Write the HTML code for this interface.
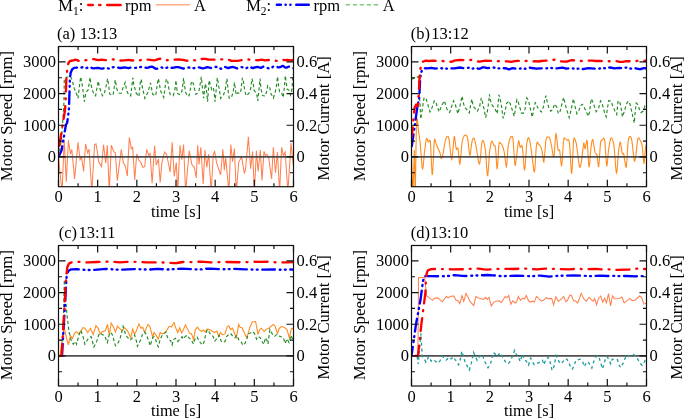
<!DOCTYPE html>
<html><head><meta charset="utf-8"><style>
html,body{margin:0;padding:0;background:#fff;width:685px;height:420px;overflow:hidden}
svg{display:block;will-change:transform}
text{font-family:"Liberation Serif",serif}
</style></head><body>
<svg width="685" height="420" viewBox="0 0 685 420" font-family='"Liberation Serif", serif' font-size="16.5" fill="#000">
<text x="58.3" y="10.8">M<tspan font-size="11.5" dy="4">1</tspan><tspan dy="-4">:</tspan></text>
<line x1="88.25" y1="5.00" x2="92.75" y2="5.00" stroke="#ff0000" stroke-width="2.50" stroke-linecap="round"/>
<line x1="99.25" y1="5.00" x2="100.35" y2="5.00" stroke="#ff0000" stroke-width="2.50" stroke-linecap="round"/>
<line x1="107.25" y1="5.00" x2="120.55" y2="5.00" stroke="#ff0000" stroke-width="2.50" stroke-linecap="round"/>
<text x="125" y="10.8">rpm</text>
<line x1="155.80" y1="4.80" x2="189.80" y2="4.80" stroke="#ffac84" stroke-width="1.50"/>
<text x="194" y="10.8">A</text>
<text x="246.2" y="10.8">M<tspan font-size="11.5" dy="4">2</tspan><tspan dy="-4">:</tspan></text>
<line x1="276.85" y1="4.70" x2="280.85" y2="4.70" stroke="#0000ff" stroke-width="2.50" stroke-linecap="round"/>
<line x1="285.55" y1="4.70" x2="285.65" y2="4.70" stroke="#0000ff" stroke-width="2.50" stroke-linecap="round"/>
<line x1="290.35" y1="4.70" x2="290.45" y2="4.70" stroke="#0000ff" stroke-width="2.50" stroke-linecap="round"/>
<line x1="296.25" y1="4.70" x2="308.75" y2="4.70" stroke="#0000ff" stroke-width="2.50" stroke-linecap="round"/>
<text x="313.4" y="10.8">rpm</text>
<line x1="345.60" y1="4.80" x2="350.00" y2="4.80" stroke="#80c880" stroke-width="1.50"/>
<line x1="352.90" y1="4.80" x2="357.00" y2="4.80" stroke="#80c880" stroke-width="1.50"/>
<line x1="359.70" y1="4.80" x2="363.90" y2="4.80" stroke="#80c880" stroke-width="1.50"/>
<line x1="366.90" y1="4.80" x2="370.90" y2="4.80" stroke="#80c880" stroke-width="1.50"/>
<line x1="373.70" y1="4.80" x2="378.20" y2="4.80" stroke="#80c880" stroke-width="1.50"/>
<text x="382.8" y="10.8">A</text>
<clipPath id="ca"><rect x="58.5" y="46.5" width="235.0" height="140.2"/></clipPath>
<g clip-path="url(#ca)">
<path d="M58.50 156.90L60.2 175.0L62.1 192.0L64.2 139.7L66.3 181.8L68.4 140.4L70.4 154.2L71.8 149.3L74.6 179.0L78.0 142.4L80.1 159.7L81.5 156.9L83.6 171.4L85.6 143.8L87.7 152.8L89.1 149.3L91.8 192.0L94.6 144.5L96.0 143.8L97.4 152.1L98.7 161.8L101.5 166.6L103.6 144.5L105.7 163.1L107.3 145.3L109.3 192.0L111.3 145.3L114.0 152.0L115.3 152.7L117.3 180.7L121.3 149.3L123.3 162.7L125.3 166.0L127.3 176.0L129.3 137.3L131.3 148.7L132.7 147.3L134.7 180.0L136.7 154.0L138.7 160.0L140.7 162.0L142.7 167.3L144.7 166.7L146.7 149.3L148.7 155.3L150.1 153.5L152.1 183.2L154.6 145.9L156.3 165.2L158.4 159.0L160.2 182.5L161.8 163.1L164.6 152.1L166.6 154.2L170.1 172.1L172.2 142.4L174.2 176.3L176.3 162.5L177.7 192.0L180.0 145.2L181.8 159.7L183.6 144.5L185.6 192.0L189.2 150.7L191.9 164.5L194.3 167.3L196.3 178.0L197.7 145.2L199.0 164.5L200.8 147.3L203.2 183.9L205.0 150.0L206.8 167.3L208.7 154.2L211.2 192.0L213.3 154.2L214.6 151.4L216.7 163.1L220.6 174.9L222.9 149.3L224.3 170.1L225.7 157.6L228.9 192.0L230.8 144.5L232.6 161.8L234.4 148.6L236.3 192.0L238.8 161.8L241.6 156.9L244.3 172.8L245.4 170.7L248.4 136.9L250.6 168.7L252.6 151.4L254.4 192.0L256.4 150.7L258.1 171.4L260.3 150.0L262.0 180.4L264.0 151.4L265.4 155.6L266.8 154.2L268.6 156.9L271.6 179.0L273.3 147.3L275.5 172.8L277.4 152.1L279.6 192.0L281.6 147.3L283.4 155.6L285.2 152.1L287.9 192.0L291.0 143.1L293.0 163.1L295.0 160.0" stroke="#ff8050" stroke-width="1.05" fill="none" />
<line x1="58.5" y1="156.90" x2="293.5" y2="156.90" stroke="#404040" stroke-width="1.9" opacity="0.92"/>
<path d="M58.50 156.90L61.5 140.0L63.9 103.4L64.3 78.6L66.9 77.3L70.3 76.2L71.6 78.6L72.9 82.9L74.2 88.4L76.3 93.2L78.0 98.3L80.6 76.9L81.9 82.0L84.4 101.7L85.7 94.0L87.0 91.0L88.3 89.7L90.0 77.3L90.9 83.7L92.2 89.7L93.9 94.0L95.6 95.7L98.2 81.1L99.5 87.2L100.7 91.0L102.5 95.7L104.6 92.3L106.3 85.4L107.6 78.6L108.9 87.2L109.7 94.0L111.4 94.9L113.1 94.9L115.3 79.9L116.6 88.0L117.4 90.6L119.1 93.2L121.3 93.2L122.6 88.9L125.2 82.4L126.4 88.9L127.7 93.2L129.4 93.6L130.7 95.7L132.9 77.7L133.7 84.6L134.6 87.2L135.9 92.7L138.9 96.6L140.6 79.4L141.4 80.3L142.3 87.2L144.9 98.3L147.9 92.3L150.5 82.9L152.6 94.0L154.3 95.3L155.6 95.7L156.5 90.6L157.3 84.0L158.4 78.6L160.7 91.4L162.0 93.6L163.7 97.4L166.3 79.0L167.6 80.7L169.3 91.4L170.2 94.4L173.2 95.7L174.4 91.4L175.3 87.2L175.9 80.3L177.4 93.2L179.2 94.4L180.9 94.0L182.2 89.7L183.6 78.1L184.3 84.6L185.6 92.3L187.3 96.2L189.0 95.7L190.3 89.7L191.2 82.9L192.0 81.1L193.3 83.7L195.9 94.4L197.6 93.2L199.3 89.7L201.3 76.9L203.6 98.3L205.3 83.7L206.1 87.2L207.6 101.7L209.1 80.3L211.7 89.7L213.4 88.0L214.3 94.0L215.1 101.7L217.3 77.7L220.7 98.3L222.0 95.7L223.7 94.4L225.4 89.3L226.3 82.0L227.0 78.6L228.4 93.2L229.3 98.3L231.4 97.4L233.2 92.3L234.4 82.4L236.2 94.9L237.9 92.7L239.6 93.6L240.9 90.6L242.4 77.7L243.5 82.0L244.5 88.9L246.0 95.7L247.3 94.9L250.3 91.4L252.0 78.6L253.4 84.2L253.9 89.9L256.8 94.2L257.7 100.9L258.7 92.8L260.1 78.5L261.0 89.0L262.5 95.6L265.3 96.1L266.8 90.9L267.7 85.6L269.6 87.0L271.0 93.7L273.4 98.0L275.3 91.8L276.6 85.1L277.5 76.6L278.5 85.1L279.6 91.8L281.5 92.3L283.2 97.5L284.4 87.0L285.3 75.6L287.2 89.4L288.7 89.9L290.6 95.1L292.0 89.0L293.0 74.7L295.0 72.0" stroke="#228b22" stroke-width="1.15" stroke-dasharray="3.3 2.4" fill="none" />
<path d="M58.50 156.90L61.6 150.2L65.9 125.0L67.1 122.7L67.3 121.9L68.9 110.0L69.9 79.1L70.6 73.0L72.2 69.3L74.2 67.9L76.1 67.7L76.3 67.5L77.7 68.0L78.9 68.1L83.2 67.1L86.5 68.0L87.3 67.8L88.7 67.0L89.4 66.9L90.2 67.1L92.4 68.2L93.4 68.4L97.9 67.8L101.4 68.6L102.4 68.7L103.3 68.4L105.1 67.5L105.9 67.4L106.7 67.5L108.4 68.5L109.2 68.6L110.2 68.4L112.6 67.4L114.1 67.1L115.9 67.2L119.8 68.0L121.0 68.0L124.5 67.4L128.4 68.2L131.7 67.4L135.5 67.9L139.0 67.2L140.9 67.0L142.7 67.1L147.0 67.9L148.2 67.7L150.3 66.8L151.5 66.6L152.9 67.0L155.2 68.5L156.4 68.8L157.4 68.6L159.4 67.3L160.3 67.1L161.3 67.3L163.5 68.2L164.4 68.3L165.6 68.1L168.6 67.1L169.5 67.2L171.7 67.8L172.7 67.9L176.2 67.1L177.8 67.1L179.3 67.3L182.5 68.3L183.6 68.5L184.6 68.3L186.8 67.5L187.8 67.4L192.6 68.3L194.0 68.1L197.7 67.3L198.9 67.4L202.6 68.3L204.0 68.2L207.5 67.2L208.5 67.3L210.7 68.0L211.6 68.1L215.0 67.0L216.1 66.9L217.7 67.2L220.5 68.6L221.4 68.8L222.4 68.5L224.0 67.3L224.8 67.0L225.3 67.0L227.1 67.8L228.1 68.0L231.6 67.1L233.2 67.0L237.3 68.5L238.3 68.3L240.2 67.3L241.2 67.1L242.2 67.2L244.5 68.1L245.5 68.3L246.5 68.1L248.3 67.0L249.0 66.8L249.8 66.8L251.8 67.8L252.8 68.0L257.3 66.9L260.8 67.8L261.6 67.6L263.1 66.7L263.9 66.5L265.1 66.7L268.0 68.2L269.4 68.5L270.8 68.2L273.1 66.7L274.1 66.4L275.5 66.4L278.2 67.3L279.2 67.4L280.2 67.2L281.9 66.2L282.7 66.0L283.5 66.2L284.9 67.3L285.7 67.6L286.5 67.6L288.4 66.7L289.4 66.6L290.4 66.9L292.5 68.0L293.5 68.2" stroke="#0000ff" stroke-width="2.35" fill="none" stroke-linejoin="round" stroke-dasharray="12.54 4.74 0.88 4.22 0.88 4.54" stroke-dashoffset="1.21" stroke-linecap="round"/>
<path d="M58.50 156.90L58.7 149.0L65.0 110.2L65.7 99.9L66.3 79.6L67.5 66.0L68.7 62.5L70.1 61.0L74.2 60.2L74.4 59.8L74.8 59.7L76.5 59.9L78.7 60.9L79.7 61.0L82.4 60.3L85.3 60.3L93.6 59.1L98.3 60.1L101.8 59.6L105.5 60.1L112.9 59.4L121.6 60.7L128.8 59.9L132.1 60.5L135.5 60.0L137.8 60.6L138.8 60.7L141.9 59.6L142.9 59.4L148.2 59.7L153.9 60.4L155.2 60.2L158.2 59.1L160.1 58.7L161.9 59.0L164.6 60.0L165.8 60.3L173.3 59.7L178.9 59.5L182.9 59.8L186.4 60.6L189.5 61.0L193.4 60.2L196.8 60.5L200.5 59.1L203.2 58.8L205.2 58.9L208.3 59.5L215.2 59.7L218.1 60.0L221.4 59.3L222.6 59.3L225.3 59.9L228.7 59.8L231.4 60.8L232.4 60.9L237.7 60.8L242.2 60.1L246.5 59.2L250.0 59.7L254.1 59.8L257.7 60.3L261.6 59.6L264.9 60.3L268.2 60.0L271.0 60.4L276.7 60.8L278.2 60.7L281.6 59.9L284.5 60.1L287.4 59.8L290.8 60.4L293.5 59.9" stroke="#ff0000" stroke-width="2.35" fill="none" stroke-linejoin="round" stroke-dasharray="12.86 6.91 0.89 6.91" stroke-dashoffset="16.76" stroke-linecap="round"/>
</g>
<path d="M58.50 186.70v-7M58.50 46.50v7M97.67 186.70v-7M97.67 46.50v7M136.83 186.70v-7M136.83 46.50v7M176.00 186.70v-7M176.00 46.50v7M215.17 186.70v-7M215.17 46.50v7M254.33 186.70v-7M254.33 46.50v7M293.50 186.70v-7M293.50 46.50v7M78.08 186.70v-3.5M78.08 46.50v3.5M117.25 186.70v-3.5M117.25 46.50v3.5M156.42 186.70v-3.5M156.42 46.50v3.5M195.58 186.70v-3.5M195.58 46.50v3.5M234.75 186.70v-3.5M234.75 46.50v3.5M273.92 186.70v-3.5M273.92 46.50v3.5M58.50 156.90h7M293.50 156.90h-7M58.50 125.23h7M293.50 125.23h-7M58.50 93.57h7M293.50 93.57h-7M58.50 61.90h7M293.50 61.90h-7M58.50 172.73h3.5M293.50 172.73h-3.5M58.50 141.07h3.5M293.50 141.07h-3.5M58.50 109.40h3.5M293.50 109.40h-3.5M58.50 77.73h3.5M293.50 77.73h-3.5" stroke="#111" stroke-width="1.2" fill="none"/>
<rect x="58.5" y="46.5" width="235.0" height="140.2" stroke="#111" stroke-width="1.2" fill="none"/>
<text x="56.0" y="162.3" text-anchor="end">0</text>
<text x="56.0" y="130.6" text-anchor="end">1000</text>
<text x="56.0" y="99.0" text-anchor="end">2000</text>
<text x="56.0" y="67.3" text-anchor="end">3000</text>
<text x="296.5" y="162.3">0</text>
<text x="296.5" y="130.6">0.2</text>
<text x="296.5" y="99.0">0.4</text>
<text x="296.5" y="67.3">0.6</text>
<text x="58.50" y="202.2" text-anchor="middle">0</text>
<text x="97.67" y="202.2" text-anchor="middle">1</text>
<text x="136.83" y="202.2" text-anchor="middle">2</text>
<text x="176.00" y="202.2" text-anchor="middle">3</text>
<text x="215.17" y="202.2" text-anchor="middle">4</text>
<text x="254.33" y="202.2" text-anchor="middle">5</text>
<text x="293.50" y="202.2" text-anchor="middle">6</text>
<text x="176.0" y="217.3" text-anchor="middle" font-size="16.3">time [s]</text>
<text transform="translate(12.1 116.0) rotate(-90)" text-anchor="middle" font-size="16.9">Motor Speed [rpm]</text>
<text transform="translate(329.1 118.3) rotate(-90)" text-anchor="middle" font-size="16.7">Motor Current [A]</text>
<text x="56.9" y="38.9">(a)<tspan dx="4.5">13:13</tspan></text>
<clipPath id="cb"><rect x="411.5" y="46.5" width="235.0" height="140.2"/></clipPath>
<g clip-path="url(#cb)">
<path d="M411.50 157.00L412.5 184.7L412.7 190.2L413.0 192.0L413.2 188.5L414.3 150.0L415.1 190.6L415.3 192.0L416.3 129.5L416.6 121.1L416.9 118.2L417.3 118.7L418.7 132.4L420.1 141.9L421.8 163.6L422.1 167.2L422.5 168.9L422.9 168.1L423.3 165.5L424.4 153.0L425.7 142.7L426.2 139.4L426.5 138.5L426.8 138.3L428.3 142.0L428.6 141.9L429.4 140.6L429.8 140.3L430.2 140.9L430.5 142.8L431.7 168.0L432.0 173.1L432.3 175.0L432.6 172.8L433.0 167.2L434.0 145.4L434.3 141.1L434.6 139.4L434.9 139.2L436.1 143.7L437.8 148.0L439.9 152.4L441.1 158.1L441.3 158.5L441.6 158.5L442.1 157.4L443.0 154.1L444.5 144.5L445.5 140.1L446.5 137.2L446.9 136.7L447.6 136.3L448.0 136.4L448.3 136.8L449.1 139.3L450.8 155.1L451.3 158.2L451.7 159.3L452.1 157.6L452.6 153.6L453.9 138.9L454.3 136.7L454.6 136.9L456.1 148.9L456.4 149.4L456.7 149.1L457.4 148.0L457.7 147.9L458.0 148.6L459.3 161.0L459.6 163.3L459.9 164.0L460.6 159.3L461.9 143.4L462.9 138.7L463.8 136.4L464.4 135.4L465.1 135.0L466.3 135.3L466.9 136.1L467.3 136.9L468.0 140.6L469.1 151.1L469.4 153.8L469.8 155.0L470.2 154.5L470.5 152.6L471.6 144.1L472.2 140.8L472.8 138.9L473.4 138.1L473.7 138.0L474.0 138.2L474.3 138.7L475.7 144.3L478.4 160.9L479.2 164.1L479.6 164.0L480.0 162.1L481.8 142.8L482.5 140.6L482.8 140.4L483.1 140.6L483.7 141.9L484.3 143.9L485.3 149.2L485.9 155.6L486.9 171.1L487.3 174.8L487.6 176.2L487.9 174.9L488.2 171.4L489.5 152.4L490.6 145.2L491.3 142.3L491.7 141.5L492.1 141.3L492.5 141.8L494.0 145.4L494.3 145.7L494.8 145.6L495.0 145.7L495.2 146.4L495.8 150.9L496.6 164.7L496.9 168.0L497.2 169.1L497.8 163.5L498.6 148.0L498.9 144.7L499.4 142.4L499.6 142.3L500.1 143.0L501.0 143.5L501.6 144.2L502.3 145.4L503.3 148.2L504.3 152.4L505.8 164.0L506.2 166.0L506.5 166.6L507.0 162.7L507.9 148.6L508.4 144.7L509.3 140.6L510.2 138.0L510.8 137.0L512.0 136.4L512.2 136.4L512.5 136.7L513.1 139.6L514.4 158.7L515.0 165.3L515.3 165.4L515.6 163.8L518.1 143.4L518.6 140.9L518.9 141.0L520.1 147.3L520.4 147.4L520.6 147.0L521.5 145.4L521.9 145.6L522.2 146.2L523.0 152.9L523.9 166.4L524.3 169.5L524.6 170.4L524.9 168.6L525.3 164.6L526.6 144.7L527.6 139.1L528.2 137.8L528.5 137.6L528.8 137.8L529.8 140.9L530.7 145.9L533.8 170.1L534.1 171.8L534.5 171.7L534.9 169.2L536.2 147.6L536.6 144.1L537.0 142.5L537.3 142.1L537.7 142.5L538.8 144.5L539.6 145.0L540.1 145.6L541.2 147.6L542.0 150.5L543.3 160.4L543.6 162.0L543.9 162.1L544.5 156.8L545.8 140.9L546.5 138.1L547.1 137.3L548.1 136.8L548.8 136.9L549.4 137.7L550.0 139.2L551.6 146.0L553.1 155.7L553.4 157.0L553.8 156.9L554.2 154.6L555.6 135.8L555.9 133.8L556.2 134.3L556.6 136.6L557.9 149.2L558.2 150.1L558.5 150.4L559.2 150.0L559.5 150.2L559.8 151.1L561.1 163.5L561.4 165.6L561.7 165.9L562.3 159.4L563.3 143.5L563.9 138.5L564.2 137.9L564.5 137.9L565.0 138.7L565.8 139.1L566.9 140.2L567.3 140.2L568.1 139.7L568.5 139.8L569.0 140.7L569.4 142.8L569.8 147.0L571.0 167.0L571.3 171.8L571.7 173.6L572.0 171.5L572.3 166.2L573.5 140.9L574.1 138.0L574.4 138.1L575.5 140.8L576.3 143.7L577.3 150.1L579.0 164.7L579.4 166.6L579.8 167.2L580.2 167.0L580.5 166.0L581.6 160.8L583.6 143.4L583.9 143.1L584.1 143.9L584.8 148.2L585.1 148.6L585.4 147.7L586.5 141.4L586.9 140.4L587.2 140.9L587.5 143.9L588.4 160.6L589.0 167.2L589.3 166.4L589.7 163.5L591.0 147.3L591.9 141.4L592.5 139.6L592.8 139.6L593.1 140.6L594.9 151.8L595.3 152.8L596.8 154.6L597.1 155.6L598.2 165.2L598.4 166.7L598.7 166.6L599.3 160.7L600.2 146.5L600.7 141.7L601.2 140.5L601.9 140.2L602.9 138.7L603.6 138.2L604.3 138.8L604.9 141.5L606.1 160.5L606.7 165.9L607.0 165.6L607.3 163.6L608.4 151.1L609.7 142.5L610.6 138.8L610.9 138.2L611.2 138.0L611.6 138.1L612.2 138.9L612.8 140.4L613.8 144.8L614.5 151.1L615.7 167.3L616.1 171.3L616.5 173.0L616.9 172.0L617.2 168.7L618.6 151.1L619.5 144.5L620.0 142.3L620.3 142.1L620.6 142.9L622.1 153.1L622.4 153.7L622.6 153.8L623.2 153.4L623.5 153.5L623.8 154.3L625.5 165.3L625.9 167.1L626.3 167.2L626.9 160.9L628.0 142.1L628.7 138.3L629.5 136.7L630.2 136.4L630.9 137.0L631.8 140.3L632.4 144.6L633.8 158.2L634.1 160.1L634.4 161.0L634.6 161.2L635.1 159.8L635.7 156.9L637.5 140.9L637.9 138.9L638.3 138.0L638.8 137.9L639.7 139.2L641.2 142.3L641.8 144.2L642.4 147.3L643.5 160.5L644.0 164.0L644.5 160.4L645.3 149.7L645.8 146.0L646.3 145.0L648.0 144.0" stroke="#ff8c1e" stroke-width="1.1" fill="none" />
<line x1="411.5" y1="156.90" x2="646.5" y2="156.90" stroke="#404040" stroke-width="1.9" opacity="0.92"/>
<path d="M411.50 79.20L415.0 78.0L418.2 76.5L419.5 95.0L420.8 119.1L424.1 97.5L426.1 98.8L430.0 111.9L431.9 108.0L434.3 100.8L435.9 102.1L437.2 106.6L439.1 111.9L441.8 105.3L444.4 100.8L447.0 109.3L449.6 112.5L453.5 100.8L455.5 105.3L457.9 113.8L460.3 104.3L462.0 96.1L463.3 102.6L464.6 107.3L466.7 109.4L469.3 112.9L470.6 105.2L471.9 99.1L473.2 106.0L474.4 107.7L477.4 111.2L479.6 106.4L481.3 97.9L483.0 104.3L484.3 110.3L485.6 117.6L487.3 112.0L488.6 103.0L489.4 94.4L491.2 103.9L495.0 108.6L497.2 113.7L498.9 94.9L501.0 102.6L503.2 118.4L504.9 112.0L506.6 103.4L509.1 100.9L510.4 104.3L514.3 116.3L516.9 99.6L518.1 101.3L519.4 106.4L520.3 109.0L521.2 112.9L523.3 113.3L525.0 109.4L525.9 101.7L526.7 97.9L528.4 100.0L532.3 117.2L533.6 109.4L535.3 102.6L536.6 103.9L537.4 107.3L541.3 112.0L543.4 106.9L544.7 100.0L546.0 95.7L547.3 102.6L549.0 108.2L550.7 111.2L552.9 109.4L554.6 103.9L556.7 106.9L558.4 113.7L560.1 111.2L563.6 97.4L566.1 107.7L569.2 117.6L570.4 112.9L573.4 98.7L574.7 105.2L576.9 113.7L579.0 110.3L580.7 105.6L582.4 104.3L584.6 108.2L588.4 116.3L589.7 111.2L590.6 103.0L591.4 98.7L593.2 103.0L596.2 111.6L598.7 107.7L600.5 100.9L601.9 103.0L604.8 113.5L606.2 116.9L608.6 100.7L611.0 101.1L612.4 105.0L614.8 110.7L616.7 114.5L618.1 100.7L620.0 102.6L621.4 109.7L622.4 116.9L624.3 111.6L626.2 104.5L628.1 101.1L630.0 104.0L634.3 123.0L635.2 111.6L636.2 103.0L638.1 105.0L639.5 109.7L641.0 112.6L643.3 111.1L645.2 105.0L646.2 104.5L648.0 103.0" stroke="#228b22" stroke-width="1.15" stroke-dasharray="3.3 2.4" fill="none" />
<path d="M411.50 148.35L417.0 109.4L419.3 96.7L420.1 80.9L420.9 73.0L422.5 69.5L425.2 68.2L427.2 68.3L431.3 67.8L435.4 68.6L439.3 67.8L443.0 68.6L445.2 68.8L449.9 68.3L454.6 68.3L459.7 67.5L464.2 68.2L468.9 67.7L472.4 68.7L475.5 67.6L476.3 67.8L478.1 68.7L478.9 68.8L479.8 68.7L481.8 67.7L483.0 67.3L484.2 67.4L487.7 68.1L492.2 67.3L498.4 68.4L505.3 68.2L509.0 69.3L510.0 69.1L511.8 68.3L512.7 68.1L517.2 69.0L521.4 68.4L524.9 68.8L527.8 67.8L529.0 67.6L536.4 68.7L540.2 68.3L545.8 68.4L550.9 68.0L556.8 68.4L562.3 67.6L563.5 67.8L566.4 68.7L570.5 67.9L575.0 68.9L576.4 68.9L579.5 68.4L583.0 69.1L586.8 68.3L588.3 68.1L596.8 68.9L598.7 68.7L602.2 67.8L606.0 68.4L608.7 67.7L609.9 67.5L614.6 68.3L619.5 67.8L622.8 68.5L625.5 67.7L626.5 67.6L630.8 68.6L632.0 68.7L635.5 68.3L639.6 69.2L640.8 69.0L644.0 68.1L644.9 68.1L646.5 68.6" stroke="#0000ff" stroke-width="2.35" fill="none" stroke-linejoin="round" stroke-dasharray="12.00 4.66 0.76 4.16 0.76 4.46" stroke-dashoffset="24.63" stroke-linecap="round"/>
<path d="M411.50 137.90L412.3 131.6L414.6 107.8L416.2 104.6L417.8 106.2L418.6 96.7L419.7 76.1L420.9 65.1L422.1 61.9L425.0 61.0L425.2 60.6L428.5 61.0L433.6 60.6L438.3 61.2L442.1 60.9L446.0 61.7L450.9 61.8L452.2 61.5L454.4 60.7L455.8 60.4L460.5 60.0L466.1 60.3L470.4 59.9L475.3 60.3L478.3 61.5L479.5 61.7L485.3 60.7L492.4 61.0L494.7 61.4L501.8 61.0L504.3 61.4L507.7 61.3L511.2 61.8L514.9 61.1L517.6 60.8L519.0 60.9L522.3 61.6L526.8 60.8L531.2 61.6L535.3 61.1L538.6 61.5L541.3 61.0L546.0 60.6L549.8 60.6L554.3 59.7L555.6 60.0L558.6 61.2L564.8 61.7L567.4 61.5L570.5 60.4L572.3 60.1L575.4 60.8L578.0 60.6L581.1 61.0L584.0 60.5L588.3 60.7L592.5 60.6L596.0 61.0L599.9 60.8L604.4 61.6L607.1 61.2L610.1 61.3L612.2 61.0L615.6 61.0L619.5 61.8L620.6 61.9L622.8 61.8L626.3 61.1L630.0 61.3L632.8 61.0L635.7 61.1L638.5 60.7L642.4 61.1L646.5 60.5" stroke="#ff0000" stroke-width="2.35" fill="none" stroke-linejoin="round" stroke-dasharray="13.11 6.99 0.95 6.99" stroke-dashoffset="2.53" stroke-linecap="round"/>
</g>
<path d="M411.50 186.70v-7M411.50 46.50v7M450.67 186.70v-7M450.67 46.50v7M489.83 186.70v-7M489.83 46.50v7M529.00 186.70v-7M529.00 46.50v7M568.17 186.70v-7M568.17 46.50v7M607.33 186.70v-7M607.33 46.50v7M646.50 186.70v-7M646.50 46.50v7M431.08 186.70v-3.5M431.08 46.50v3.5M470.25 186.70v-3.5M470.25 46.50v3.5M509.42 186.70v-3.5M509.42 46.50v3.5M548.58 186.70v-3.5M548.58 46.50v3.5M587.75 186.70v-3.5M587.75 46.50v3.5M626.92 186.70v-3.5M626.92 46.50v3.5M411.50 156.90h7M646.50 156.90h-7M411.50 125.23h7M646.50 125.23h-7M411.50 93.57h7M646.50 93.57h-7M411.50 61.90h7M646.50 61.90h-7M411.50 172.73h3.5M646.50 172.73h-3.5M411.50 141.07h3.5M646.50 141.07h-3.5M411.50 109.40h3.5M646.50 109.40h-3.5M411.50 77.73h3.5M646.50 77.73h-3.5" stroke="#111" stroke-width="1.2" fill="none"/>
<rect x="411.5" y="46.5" width="235.0" height="140.2" stroke="#111" stroke-width="1.2" fill="none"/>
<text x="409.0" y="162.3" text-anchor="end">0</text>
<text x="409.0" y="130.6" text-anchor="end">1000</text>
<text x="409.0" y="99.0" text-anchor="end">2000</text>
<text x="409.0" y="67.3" text-anchor="end">3000</text>
<text x="649.5" y="162.3">0</text>
<text x="649.5" y="130.6">0.2</text>
<text x="649.5" y="99.0">0.4</text>
<text x="649.5" y="67.3">0.6</text>
<text x="411.50" y="202.2" text-anchor="middle">0</text>
<text x="450.67" y="202.2" text-anchor="middle">1</text>
<text x="489.83" y="202.2" text-anchor="middle">2</text>
<text x="529.00" y="202.2" text-anchor="middle">3</text>
<text x="568.17" y="202.2" text-anchor="middle">4</text>
<text x="607.33" y="202.2" text-anchor="middle">5</text>
<text x="646.50" y="202.2" text-anchor="middle">6</text>
<text x="529.0" y="217.3" text-anchor="middle" font-size="16.3">time [s]</text>
<text transform="translate(365.1 116.0) rotate(-90)" text-anchor="middle" font-size="16.9">Motor Speed [rpm]</text>
<text transform="translate(682.1 118.3) rotate(-90)" text-anchor="middle" font-size="16.7">Motor Current [A]</text>
<text x="410.7" y="38.9">(b)<tspan dx="1.2">13:12</tspan></text>
<clipPath id="cc"><rect x="58.5" y="245.5" width="235.0" height="140.5"/></clipPath>
<g clip-path="url(#cc)">
<path d="M58.50 355.90L60.1 355.9L62.0 340.0L64.2 327.6L66.3 337.3L68.4 344.9L70.4 335.9L72.5 338.7L74.6 333.1L76.6 331.8L78.7 333.8L80.8 331.1L82.9 327.6L84.9 328.3L87.7 332.5L90.5 328.3L93.2 334.5L96.0 325.6L98.1 328.3L100.1 333.8L102.2 331.8L105.0 331.1L106.0 329.1L107.4 324.4L109.3 334.9L111.2 323.0L113.1 326.3L115.5 332.0L117.4 326.3L119.8 328.7L122.2 330.6L124.6 327.7L127.4 330.6L130.8 337.7L132.7 329.1L134.6 334.4L136.5 330.6L138.9 323.9L140.8 328.2L142.7 327.2L144.6 332.5L147.9 324.4L149.8 326.3L152.7 337.2L154.0 332.5L155.9 334.9L158.3 339.1L160.2 332.5L162.1 333.9L164.5 333.0L166.9 330.1L169.2 326.3L171.6 326.8L174.0 322.5L175.9 328.2L177.8 332.5L179.7 327.7L181.6 333.0L183.5 329.6L185.4 324.9L189.7 333.4L191.6 333.9L193.5 339.6L195.4 329.6L197.3 327.2L199.2 329.6L201.6 331.5L203.4 330.1L205.3 332.0L207.2 329.1L209.6 329.6L214.4 332.5L216.8 331.0L218.7 336.3L220.6 332.5L222.5 334.9L224.9 333.9L227.2 326.8L228.7 325.8L230.6 329.6L232.5 328.2L236.3 337.7L238.7 324.4L240.1 327.2L242.0 327.7L246.3 337.2L248.0 333.9L249.9 327.2L252.3 322.0L255.6 321.5L258.0 334.4L259.4 330.1L261.3 328.2L264.2 331.5L266.6 329.1L269.0 328.2L270.9 326.3L273.2 324.4L275.1 326.3L277.5 333.4L279.4 328.2L281.8 326.3L284.7 327.7L287.0 329.6L289.4 338.2L291.3 328.7L293.2 328.2L295.0 328.0" stroke="#ff8c1e" stroke-width="1.1" fill="none" />
<line x1="58.5" y1="355.90" x2="293.5" y2="355.90" stroke="#404040" stroke-width="1.9" opacity="0.92"/>
<path d="M58.50 355.90L62.0 355.0L63.2 330.0L64.3 280.0L65.3 295.0L67.0 315.0L69.0 331.8L71.1 340.0L73.2 344.2L75.3 341.4L76.6 344.2L78.7 335.9L80.8 330.4L82.9 335.9L84.9 344.2L87.7 339.4L91.1 336.6L93.9 347.0L96.7 341.4L99.4 333.1L105.0 335.9L106.0 339.6L107.4 342.5L108.9 335.8L110.3 332.5L112.2 334.4L115.5 345.8L118.4 342.5L120.3 337.7L123.1 326.3L126.0 335.8L130.3 340.1L131.7 338.7L134.6 334.9L136.5 341.5L137.4 346.3L141.2 338.7L142.7 333.4L144.6 332.0L146.0 333.9L147.9 338.7L150.3 345.8L151.7 340.6L153.1 337.2L154.0 336.8L155.4 338.7L157.3 344.9L158.3 346.8L159.7 341.0L161.6 336.3L163.5 333.9L165.9 332.0L167.3 336.8L168.8 339.6L170.7 340.6L172.1 344.9L173.5 339.6L175.4 338.2L177.8 341.5L182.1 336.8L183.5 339.1L185.4 336.3L187.3 335.3L189.2 338.2L191.1 339.6L193.5 343.9L195.4 337.7L197.3 337.2L199.2 341.5L201.1 343.4L203.0 344.9L204.4 340.6L205.8 333.9L207.2 329.6L209.1 332.0L211.0 335.3L213.0 336.3L214.9 341.0L217.2 338.2L219.1 335.3L221.0 341.0L223.0 342.5L224.9 341.5L226.8 336.3L228.7 334.4L230.6 333.4L232.5 335.8L234.9 337.7L236.8 335.3L238.7 339.6L241.0 341.5L243.0 345.3L244.9 343.4L246.8 339.6L248.0 333.9L250.4 333.0L252.8 331.5L254.7 333.9L256.6 339.1L258.0 336.8L259.9 337.2L263.7 344.4L265.6 337.7L267.0 340.6L268.0 343.9L269.9 329.6L272.3 333.9L274.7 336.3L276.6 334.4L278.5 335.8L280.9 336.8L283.2 337.2L285.1 343.4L287.0 338.7L289.0 342.5L290.9 335.3L292.8 339.6L295.0 338.0" stroke="#228b22" stroke-width="1.15" stroke-dasharray="3.3 2.4" fill="none" />
<path d="M58.50 355.90L62.0 355.9L66.7 275.1L68.3 271.0L71.2 269.3L76.9 269.2L84.9 269.9L89.0 270.0L94.5 269.8L105.9 268.9L116.1 269.6L122.7 269.7L133.9 269.1L148.6 269.6L157.2 268.9L165.6 269.4L169.3 269.5L181.3 268.6L198.1 269.5L200.9 269.4L205.8 268.8L210.3 268.7L222.2 269.3L234.4 268.9L245.1 269.4L259.8 269.7L274.1 269.5L282.3 269.8L288.8 269.5L293.5 269.6" stroke="#0000ff" stroke-width="2.35" fill="none" stroke-linejoin="round" stroke-dasharray="12.67 4.77 0.91 4.24 0.91 4.56" stroke-dashoffset="25.12" stroke-linecap="round"/>
<path d="M58.50 355.90L61.6 355.9L66.3 275.1L67.5 266.6L69.1 263.4L72.2 262.2L78.1 261.8L85.1 262.4L88.3 262.4L96.9 262.0L110.8 261.6L119.8 262.4L126.8 261.9L137.0 261.8L146.2 262.4L165.0 262.5L173.8 263.2L176.8 263.0L182.9 262.0L191.9 262.2L200.3 261.6L210.7 262.4L226.3 262.0L244.5 262.3L254.5 261.7L260.0 261.9L268.0 261.7L276.3 262.4L287.8 262.4L293.5 262.1" stroke="#ff0000" stroke-width="2.35" fill="none" stroke-linejoin="round" stroke-dasharray="13.12 6.99 0.95 6.99" stroke-dashoffset="26.45" stroke-linecap="round"/>
</g>
<path d="M58.50 386.00v-7M58.50 245.50v7M97.67 386.00v-7M97.67 245.50v7M136.83 386.00v-7M136.83 245.50v7M176.00 386.00v-7M176.00 245.50v7M215.17 386.00v-7M215.17 245.50v7M254.33 386.00v-7M254.33 245.50v7M293.50 386.00v-7M293.50 245.50v7M78.08 386.00v-3.5M78.08 245.50v3.5M117.25 386.00v-3.5M117.25 245.50v3.5M156.42 386.00v-3.5M156.42 245.50v3.5M195.58 386.00v-3.5M195.58 245.50v3.5M234.75 386.00v-3.5M234.75 245.50v3.5M273.92 386.00v-3.5M273.92 245.50v3.5M58.50 355.90h7M293.50 355.90h-7M58.50 324.23h7M293.50 324.23h-7M58.50 292.57h7M293.50 292.57h-7M58.50 260.90h7M293.50 260.90h-7M58.50 371.73h3.5M293.50 371.73h-3.5M58.50 340.07h3.5M293.50 340.07h-3.5M58.50 308.40h3.5M293.50 308.40h-3.5M58.50 276.73h3.5M293.50 276.73h-3.5" stroke="#111" stroke-width="1.2" fill="none"/>
<rect x="58.5" y="245.5" width="235.0" height="140.5" stroke="#111" stroke-width="1.2" fill="none"/>
<text x="56.0" y="361.3" text-anchor="end">0</text>
<text x="56.0" y="329.6" text-anchor="end">1000</text>
<text x="56.0" y="298.0" text-anchor="end">2000</text>
<text x="56.0" y="266.3" text-anchor="end">3000</text>
<text x="296.5" y="361.3">0</text>
<text x="296.5" y="329.6">0.2</text>
<text x="296.5" y="298.0">0.4</text>
<text x="296.5" y="266.3">0.6</text>
<text x="58.50" y="401.5" text-anchor="middle">0</text>
<text x="97.67" y="401.5" text-anchor="middle">1</text>
<text x="136.83" y="401.5" text-anchor="middle">2</text>
<text x="176.00" y="401.5" text-anchor="middle">3</text>
<text x="215.17" y="401.5" text-anchor="middle">4</text>
<text x="254.33" y="401.5" text-anchor="middle">5</text>
<text x="293.50" y="401.5" text-anchor="middle">6</text>
<text x="176.0" y="415.7" text-anchor="middle" font-size="16.3">time [s]</text>
<text transform="translate(12.1 315.1) rotate(-90)" text-anchor="middle" font-size="16.9">Motor Speed [rpm]</text>
<text transform="translate(329.1 317.4) rotate(-90)" text-anchor="middle" font-size="16.7">Motor Current [A]</text>
<text x="58.8" y="238.3">(c)<tspan dx="1.4">13:11</tspan></text>
<clipPath id="cd"><rect x="411.5" y="245.5" width="235.0" height="140.5"/></clipPath>
<g clip-path="url(#cd)">
<path d="M411.50 355.90L417.9 355.9L418.5 277.4L424.7 277.4L426.6 296.0L428.8 297.4L432.4 300.3L434.6 298.1L438.2 298.1L442.3 301.8L446.3 296.3L448.1 297.8L450.7 296.3L453.9 296.0L455.8 300.0L458.0 300.7L459.8 303.6L462.0 295.6L463.8 301.4L466.0 293.4L468.2 297.4L469.8 301.2L473.7 305.6L475.9 296.4L478.5 298.1L483.8 299.4L485.5 297.3L487.3 299.4L489.0 297.3L491.2 306.0L493.8 302.1L496.0 301.2L499.1 300.8L501.3 302.5L505.2 296.4L507.0 297.7L508.7 295.5L510.9 304.3L512.7 300.8L515.3 303.0L516.6 302.1L518.3 296.4L520.5 300.3L522.7 298.1L524.5 299.0L526.3 295.5L528.6 300.8L530.4 302.1L532.6 301.2L534.3 302.1L536.5 296.4L541.3 301.2L543.5 300.3L546.1 297.7L548.3 298.6L551.8 298.6L553.6 305.1L555.8 296.8L558.4 301.2L561.0 299.4L563.7 296.4L565.8 301.6L567.6 300.3L569.8 295.1L571.5 295.5L573.7 301.2L575.5 300.8L577.7 303.0L581.2 293.3L583.8 299.0L586.3 301.2L589.1 297.4L591.5 299.8L593.3 301.2L594.7 298.4L596.6 304.9L598.5 298.4L600.8 296.0L602.7 302.1L604.6 298.4L606.4 303.0L608.5 293.7L610.6 305.8L612.5 296.0L614.8 298.8L619.5 298.4L621.9 297.0L624.2 303.0L629.8 298.4L632.1 300.7L634.9 300.2L639.6 296.0L641.5 297.4L643.8 304.0L648.0 303.0" stroke="#ff8050" stroke-width="1.05" fill="none" />
<line x1="411.5" y1="355.90" x2="646.5" y2="355.90" stroke="#404040" stroke-width="1.9" opacity="0.92"/>
<path d="M411.50 355.90L417.0 355.9L418.2 364.0L421.0 333.2L422.2 356.8L424.3 358.9L425.9 362.2L428.6 356.8L431.3 361.1L432.9 359.5L434.5 360.5L437.7 363.2L439.9 361.1L442.0 356.3L444.2 357.3L446.3 360.0L449.0 357.3L451.1 358.9L453.3 356.8L458.6 364.8L460.2 360.0L461.8 351.1L465.3 362.5L469.2 370.0L470.9 365.1L473.6 352.4L477.1 360.3L480.6 354.6L482.8 355.9L484.5 361.2L486.3 364.3L488.0 367.8L490.2 364.7L492.0 358.1L493.3 352.4L495.0 353.8L496.8 356.4L500.3 352.9L506.0 363.0L507.7 363.8L509.5 362.5L511.2 359.4L514.7 350.3L516.0 353.8L518.0 356.4L520.2 361.6L522.4 354.2L524.6 359.9L526.3 361.2L528.5 365.1L530.7 358.1L532.4 361.6L534.2 364.7L540.8 361.6L542.5 360.3L543.8 364.7L546.0 359.4L548.2 357.3L550.0 361.6L552.1 370.4L553.9 366.9L556.1 355.5L560.0 363.8L562.7 362.1L564.8 359.0L567.0 359.4L568.8 362.5L570.5 366.9L572.3 369.1L574.0 366.0L575.8 360.3L580.2 359.2L582.3 360.8L584.4 366.6L586.5 362.4L588.1 361.8L591.8 368.1L593.4 362.4L594.9 358.7L597.0 355.5L599.1 357.6L600.7 362.4L602.3 368.7L603.9 364.5L605.4 358.7L607.0 356.6L609.1 359.7L610.7 363.9L612.3 359.2L614.9 359.7L617.5 359.7L619.1 365.0L620.7 367.6L623.3 362.9L624.9 358.7L627.0 355.0L629.6 356.0L633.3 354.5L635.9 356.0L640.1 363.4L642.2 365.5L644.3 362.4L645.9 357.6L648.0 355.0" stroke="#1c9a9a" stroke-width="1.3" stroke-dasharray="3 3" fill="none" />
<path d="M411.50 355.90L416.0 324.2L420.5 299.8L422.5 284.6L423.6 277.7L425.2 276.1L427.2 275.8L427.4 276.0L429.3 276.1L444.8 276.3L447.5 276.1L452.6 275.3L454.8 275.2L462.2 275.9L466.3 276.0L487.9 275.0L492.8 275.3L502.0 276.2L516.5 275.6L531.2 276.2L540.2 275.6L549.6 276.6L559.0 275.8L574.0 275.5L583.6 275.8L590.7 276.2L600.1 275.7L607.5 276.0L613.4 275.9L620.1 276.1L627.1 276.0L634.9 276.3L646.5 276.1" stroke="#0000ff" stroke-width="2.35" fill="none" stroke-linejoin="round" stroke-dasharray="12.89 4.80 0.95 4.27 0.95 4.59" stroke-dashoffset="3.82" stroke-linecap="round"/>
<path d="M411.50 355.90L418.0 355.9L421.3 324.9L425.4 292.6L426.0 278.3L426.8 272.9L427.9 270.4L431.1 269.1L437.7 269.0L451.8 269.3L464.8 269.2L475.3 268.5L478.3 268.6L484.2 269.4L487.3 269.6L501.2 268.7L513.1 269.0L523.5 268.5L537.4 269.4L544.9 268.7L547.8 268.6L558.4 269.1L568.8 269.3L576.8 268.9L586.0 269.2L595.2 268.9L602.2 269.4L608.7 269.3L617.3 269.9L629.1 269.5L636.5 268.7L639.1 268.5L646.5 269.2" stroke="#ff0000" stroke-width="2.35" fill="none" stroke-linejoin="round" stroke-dasharray="12.98 6.95 0.92 6.95" stroke-dashoffset="24.04" stroke-linecap="round"/>
</g>
<path d="M411.50 386.00v-7M411.50 245.50v7M450.67 386.00v-7M450.67 245.50v7M489.83 386.00v-7M489.83 245.50v7M529.00 386.00v-7M529.00 245.50v7M568.17 386.00v-7M568.17 245.50v7M607.33 386.00v-7M607.33 245.50v7M646.50 386.00v-7M646.50 245.50v7M431.08 386.00v-3.5M431.08 245.50v3.5M470.25 386.00v-3.5M470.25 245.50v3.5M509.42 386.00v-3.5M509.42 245.50v3.5M548.58 386.00v-3.5M548.58 245.50v3.5M587.75 386.00v-3.5M587.75 245.50v3.5M626.92 386.00v-3.5M626.92 245.50v3.5M411.50 355.90h7M646.50 355.90h-7M411.50 324.23h7M646.50 324.23h-7M411.50 292.57h7M646.50 292.57h-7M411.50 260.90h7M646.50 260.90h-7M411.50 371.73h3.5M646.50 371.73h-3.5M411.50 340.07h3.5M646.50 340.07h-3.5M411.50 308.40h3.5M646.50 308.40h-3.5M411.50 276.73h3.5M646.50 276.73h-3.5" stroke="#111" stroke-width="1.2" fill="none"/>
<rect x="411.5" y="245.5" width="235.0" height="140.5" stroke="#111" stroke-width="1.2" fill="none"/>
<text x="409.0" y="361.3" text-anchor="end">0</text>
<text x="409.0" y="329.6" text-anchor="end">1000</text>
<text x="409.0" y="298.0" text-anchor="end">2000</text>
<text x="409.0" y="266.3" text-anchor="end">3000</text>
<text x="649.5" y="361.3">0</text>
<text x="649.5" y="329.6">0.2</text>
<text x="649.5" y="298.0">0.4</text>
<text x="649.5" y="266.3">0.6</text>
<text x="411.50" y="401.5" text-anchor="middle">0</text>
<text x="450.67" y="401.5" text-anchor="middle">1</text>
<text x="489.83" y="401.5" text-anchor="middle">2</text>
<text x="529.00" y="401.5" text-anchor="middle">3</text>
<text x="568.17" y="401.5" text-anchor="middle">4</text>
<text x="607.33" y="401.5" text-anchor="middle">5</text>
<text x="646.50" y="401.5" text-anchor="middle">6</text>
<text x="529.0" y="415.7" text-anchor="middle" font-size="16.3">time [s]</text>
<text transform="translate(365.1 315.1) rotate(-90)" text-anchor="middle" font-size="16.9">Motor Speed [rpm]</text>
<text transform="translate(682.1 317.4) rotate(-90)" text-anchor="middle" font-size="16.7">Motor Current [A]</text>
<text x="410.7" y="238.3">(d)<tspan dx="0.6">13:10</tspan></text>
</svg>
</body></html>
